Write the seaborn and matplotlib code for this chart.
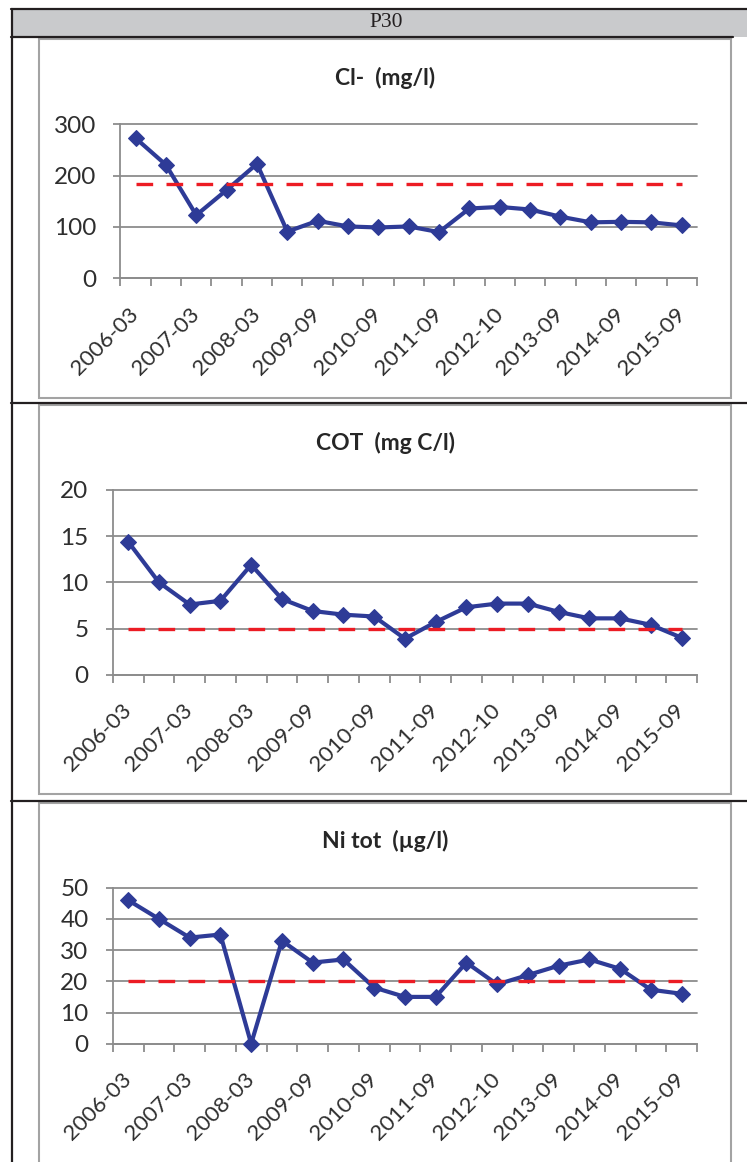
import matplotlib
matplotlib.use("Agg")
import matplotlib.pyplot as plt
from matplotlib.lines import Line2D
from matplotlib.patches import Rectangle
from matplotlib.ticker import FixedLocator
import seaborn as sns

# ---- data -------------------------------------------------------------
dates = ["2006-03", "2006-09", "2007-03", "2007-09", "2008-03", "2008-09",
         "2009-09", "2010-03", "2010-09", "2011-03", "2011-09", "2012-03",
         "2012-10", "2013-03", "2013-09", "2014-03", "2014-09", "2015-03",
         "2015-09"]
shown_labels = ["2006-03", "2007-03", "2008-03", "2009-09", "2010-09",
                "2011-09", "2012-10", "2013-09", "2014-09", "2015-09"]

chloride = [273, 221, 123, 172, 223, 91, 112, 101, 99, 101, 90, 136, 139,
            134, 120, 109, 110, 109, 103]
chloride_limit = 184

cot = [14.4, 10.0, 7.6, 8.0, 11.9, 8.2, 6.9, 6.5, 6.3, 3.9, 5.7, 7.3, 7.7,
       7.7, 6.8, 6.1, 6.1, 5.4, 4.0]
cot_limit = 5

nickel = [46, 40, 34, 35, 0, 33, 26, 27, 18, 15, 15, 26, 19, 22, 25, 27, 24,
          17.3, 16]
nickel_limit = 20

titles = ["Cl-  (mg/l)", "COT  (mg C/l)", "Ni tot  (µg/l)"]
y_max = [300, 20, 50]
y_step = [100, 5, 10]
header = "P30"

# ---- style ------------------------------------------------------------
sns.set_style("white")
plt.rcParams["font.family"] = ["Lato", "DejaVu Sans"]

W, H = 747, 1162
fig = plt.figure(figsize=(W / 100, H / 100), dpi=100)

BLUE = "#2E3B97"
RED = "#EC1C24"
GRID = "#8C8C8C"
TEXT = "#2E2E2E"
TABLE = "#231F20"
FRAME = "#A3A3A3"


def fig_box(x0, y0, x1, y1):
    return [x0 / W, 1 - y1 / H, (x1 - x0) / W, (y1 - y0) / H]


def hline(y, x0, x1, color=TABLE, lw=1.6):
    fig.add_artist(Line2D([x0 / W, x1 / W], [1 - y / H, 1 - y / H],
                          transform=fig.transFigure, color=color, lw=lw))


def vline(x, y0, y1, color=TABLE, lw=1.6):
    fig.add_artist(Line2D([x / W, x / W], [1 - y0 / H, 1 - y1 / H],
                          transform=fig.transFigure, color=color, lw=lw))


# table header and rules
fig.add_artist(Rectangle((11 / W, 1 - 36.7 / H), (W - 11) / W, 28.2 / H,
                         transform=fig.transFigure, facecolor="#C9CACC",
                         edgecolor="none", zorder=0))
fig.text(386 / W, 1 - 22.8 / H, header, family=["Liberation Serif"],
         fontsize=15.5, ha="center", va="center", color="#231F20")
hline(8.5, 11, W)
hline(36.7, 11, 733)
hline(402.7, 11, W)
hline(800.7, 11, W)
vline(11.5, 8.5, H)

# chart frames
for y0, y1 in [(39, 397.5), (405, 794), (803, 1180)]:
    fig.add_artist(Rectangle((38.5 / W, 1 - y1 / H), (731 - 38.5) / W,
                             (y1 - y0) / H, transform=fig.transFigure,
                             facecolor="none", edgecolor=FRAME, lw=1.5))

axes_px = [(120.4, 124.3, 697, 278.3),
           (112.8, 490.0, 697, 674.7),
           (112.8, 887.7, 697, 1043.7)]
title_y = [78, 443, 841]
series = [(chloride, chloride_limit), (cot, cot_limit), (nickel, nickel_limit)]

for i, ((vals, limit), box) in enumerate(zip(series, axes_px)):
    ax = fig.add_axes(fig_box(*box))
    sns.lineplot(x=dates, y=vals, ax=ax, color=BLUE, lw=3.0, marker="D",
                 markersize=8, markeredgecolor=BLUE, sort=False, zorder=3,
                 clip_on=False)
    sns.lineplot(x=dates, y=[limit] * len(dates), ax=ax, color=RED, lw=2.4,
                 linestyle=(0, (5, 4.0)), sort=False, zorder=4)

    ax.set_xlim(-0.5, len(dates) - 0.5)
    ax.set_ylim(0, y_max[i])
    ax.set_yticks(range(0, y_max[i] + 1, y_step[i]))
    ax.set_yticklabels([str(v) for v in range(0, y_max[i] + 1, y_step[i])])

    # labels on every other category, tick marks on category boundaries
    ax.set_xticks(range(0, len(dates), 2))
    ax.set_xticklabels(shown_labels, rotation=45, ha="right",
                       rotation_mode="anchor", va="center")
    ax.xaxis.set_minor_locator(FixedLocator(
        [k - 0.5 for k in range(len(dates) + 1)]))
    ax.tick_params(axis="x", which="major", length=0, pad=23.5,
                   labelsize=16, labelcolor=TEXT)
    ax.tick_params(axis="x", which="minor", length=5.5, width=1.3,
                   color=GRID, direction="out", bottom=True)
    ax.tick_params(axis="y", length=5, width=1.3, color=GRID, pad=12.5,
                   labelsize=17.5, labelcolor=TEXT, left=True)

    ax.grid(axis="y", color=GRID, lw=1.3)
    ax.grid(axis="x", visible=False)
    for gl in ax.get_ygridlines():
        gl.set_clip_on(False)
    for side in ["top", "right"]:
        ax.spines[side].set_visible(False)
    for side in ["left", "bottom"]:
        ax.spines[side].set_color(GRID)
        ax.spines[side].set_linewidth(1.3)
    ax.set_xlabel("")
    ax.set_ylabel("")
    ax.set_facecolor("none")

    fig.text(385 / W, 1 - title_y[i] / H, titles[i], fontsize=16.5,
             fontweight="bold", ha="center", va="center", color="#262626")

fig.savefig("out.png", dpi=100)
